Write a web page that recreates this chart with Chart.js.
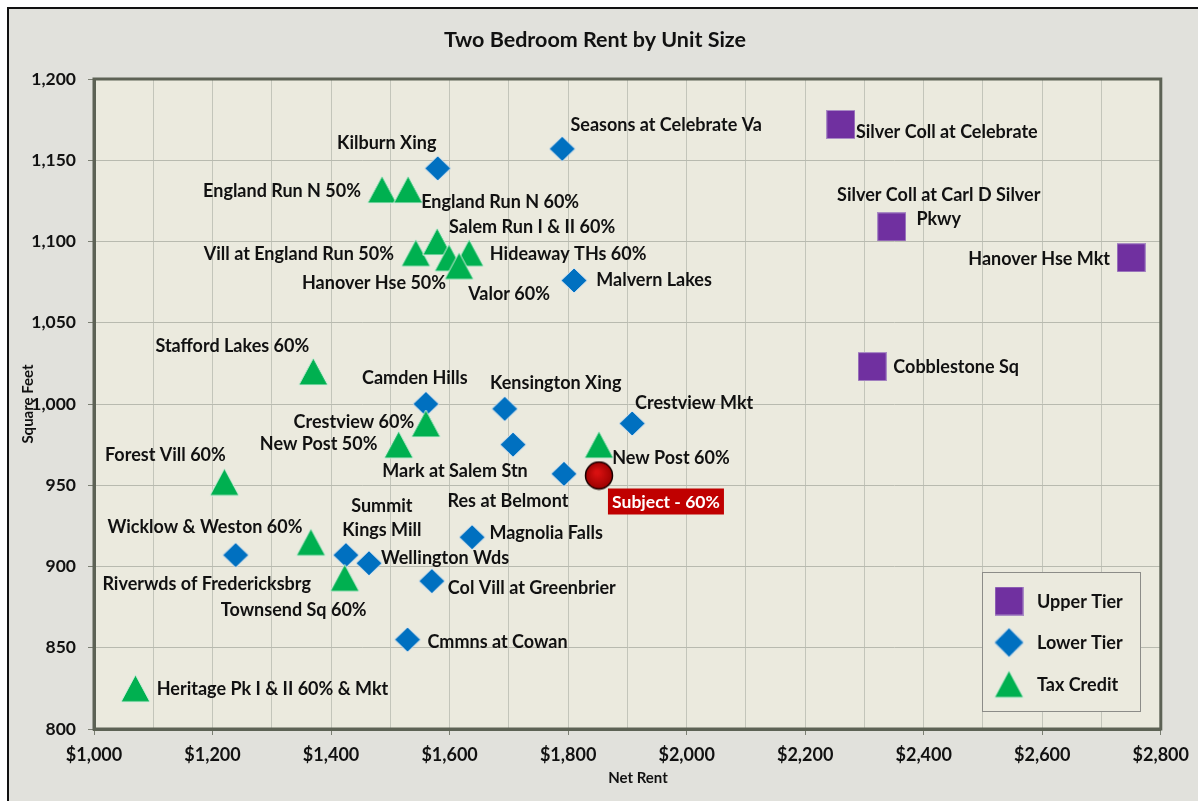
<!DOCTYPE html>
<html>
<head>
<meta charset="utf-8">
<script src="https://cdn.jsdelivr.net/npm/chart.js"></script>
<style>
  html, body { margin: 0; padding: 0; background: #fff; }
  #wrap { width: 1198px; height: 801px; }
</style>
</head>
<body>
<div id="wrap"><canvas id="rent-chart" width="1198" height="801"></canvas></div>
<script>
// ── 1. DATA ─────────────────────────────────────────────────

const upperNames = ['Silver Coll at Celebrate', 'Silver Coll at Carl D Silver\nPkwy', 'Hanover Hse Mkt', 'Cobblestone Sq'];
const upperRent  = [2260, 2346, 2750, 2313];
const upperSqft  = [1172, 1109, 1090, 1023];

const lowerNames = ['Kilburn Xing', 'Seasons at Celebrate Va', 'Malvern Lakes', 'Camden Hills',
  'Kensington Xing', 'Crestview Mkt', 'Mark at Salem Stn', 'Res at Belmont', 'Magnolia Falls',
  'Riverwds of Fredericksbrg', 'Summit\nKings Mill', 'Wellington Wds', 'Col Vill at Greenbrier',
  'Cmmns at Cowan'];
const lowerRent  = [1580, 1790, 1810, 1560, 1693, 1908, 1707, 1793, 1638, 1239, 1425, 1464, 1570, 1529];
const lowerSqft  = [1145, 1157, 1076, 1000, 997, 988, 975, 957, 918, 907, 907, 902, 891, 855];

const taxNames = ['England Run N 50%', 'England Run N 60%', 'Vill at England Run 50%',
  'Salem Run I & II 60%', 'Hanover Hse 50%', 'Hideaway THs 60%', 'Valor 60%',
  'Stafford Lakes 60%', 'Crestview 60%', 'New Post 50%', 'New Post 60%', 'Forest Vill 60%',
  'Wicklow & Weston 60%', 'Townsend Sq 60%', 'Heritage Pk I & II 60% & Mkt'];
const taxRent  = [1486, 1530, 1543, 1579, 1599, 1633, 1616, 1370, 1560, 1514, 1852, 1220, 1366, 1423, 1070];
const taxSqft  = [1132, 1132, 1093, 1100, 1090, 1093, 1085, 1020, 988, 975, 975, 952, 915, 893, 825];

const subjectName = 'Subject - 60%';
const subjectRent = [1852];
const subjectSqft = [956];

const xTickLabels = ['$1,000', '$1,200', '$1,400', '$1,600', '$1,800', '$2,000', '$2,200', '$2,400', '$2,600', '$2,800'];
const yTickLabels = ['800', '850', '900', '950', '1,000', '1,050', '1,100', '1,150', '1,200'];

// label placement (centre of first text line, px from the marker)
const upperLabelPos = [[106, 8], [47, -32], [-92, 1], [84, 1]];
const lowerLabelPos = [[-51, -25], [104, -24], [80, 0], [-11, -26], [51, -26], [62, -20],
  [-58, 27], [-56, 27], [74, -4], [-29, 29], [36, -49], [76, -5], [100, 7], [90, 3]];
const taxLabelPos = [[-100, 2], [92, 13], [-117, 1], [95, -14], [-75, 25], [99, 1], [50, 28],
  [-81, -25], [-72, -1], [-80, 0], [72, 14], [-59, -27], [-106, -15], [-51, 32], [137, 1]];

// ── 2. MARKERS ──────────────────────────────────────────────

const FONT = 'Lato, "Open Sans", sans-serif';

function makeMarker(w, h, draw) {
  const c = document.createElement('canvas');
  c.width = w; c.height = h;
  draw(c.getContext('2d'), w, h);
  return c;
}

const squareMark = makeMarker(29, 29, (g, w, h) => {
  g.fillStyle = '#7030a0';
  g.fillRect(0, 0, w, h);
  g.strokeStyle = '#a98bc4';
  g.lineWidth = 1;
  g.strokeRect(0.5, 0.5, w - 1, h - 1);
});

const diamondMark = makeMarker(28, 27, (g, w, h) => {
  g.beginPath();
  g.moveTo(w / 2, 1); g.lineTo(w - 1, h / 2); g.lineTo(w / 2, h - 1); g.lineTo(1, h / 2);
  g.closePath();
  g.fillStyle = '#0070c0';
  g.fill();
  g.strokeStyle = '#d8e4ee';
  g.lineWidth = 1;
  g.stroke();
});

const triangleMark = makeMarker(31, 29, (g, w, h) => {
  g.beginPath();
  g.moveTo(w / 2, 1); g.lineTo(w - 1, h - 1); g.lineTo(1, h - 1);
  g.closePath();
  g.fillStyle = '#00b050';
  g.fill();
  g.strokeStyle = '#d5eedd';
  g.lineWidth = 1;
  g.stroke();
});

const subjectMark = makeMarker(30, 30, (g, w, h) => {
  const grad = g.createRadialGradient(13, 12, 2, 15, 15, 14);
  grad.addColorStop(0, '#d81010');
  grad.addColorStop(1, '#9a0000');
  g.beginPath();
  g.arc(15, 15, 13.5, 0, Math.PI * 2);
  g.fillStyle = grad;
  g.fill();
  g.strokeStyle = '#1a0000';
  g.lineWidth = 1.5;
  g.stroke();
});

function toPoints(xs, ys) {
  return xs.map((x, i) => ({ x: x, y: ys[i] }));
}

// ── 3. PLUGINS ──────────────────────────────────────────────

const backgroundPlugin = {
  id: 'background',
  beforeDraw(chart) {
    const { ctx, width, height, chartArea: a } = chart;
    ctx.save();
    ctx.fillStyle = '#ffffff';
    ctx.fillRect(0, 0, width, height);
    ctx.fillStyle = '#e1e1dc';
    ctx.fillRect(8, 8, width - 8, height - 8);
    ctx.strokeStyle = '#111';
    ctx.lineWidth = 2;
    ctx.beginPath();
    ctx.moveTo(8, height); ctx.lineTo(8, 8); ctx.lineTo(width, 8);
    ctx.stroke();
    ctx.fillStyle = '#ebeade';
    ctx.fillRect(a.left, a.top, a.right - a.left, a.bottom - a.top);
    // title and x axis title
    ctx.fillStyle = '#111';
    ctx.textAlign = 'center';
    ctx.textBaseline = 'middle';
    ctx.font = 'bold 21.5px ' + FONT;
    ctx.fillText('Two Bedroom Rent by Unit Size', 595, 40);
    ctx.font = 'bold 15px ' + FONT;
    ctx.fillText('Net Rent', 638, 778);
    ctx.restore();
  },
  beforeDatasetsDraw(chart) {
    const { ctx, chartArea: a } = chart;
    ctx.save();
    ctx.strokeStyle = '#5d6255';
    ctx.lineWidth = 3;
    ctx.strokeRect(a.left, a.top, a.right - a.left, a.bottom - a.top);
    ctx.restore();
  }
};

const labelPlugin = {
  id: 'pointLabels',
  afterDatasetsDraw(chart) {
    const ctx = chart.ctx;
    ctx.save();
    ctx.textAlign = 'center';
    ctx.textBaseline = 'middle';
    chart.data.datasets.forEach((ds, di) => {
      const meta = chart.getDatasetMeta(di);
      meta.data.forEach((pt, i) => {
        const pos = ds.labelPos[i];
        if (ds.isSubject) {
          ctx.fillStyle = '#c00000';
          ctx.fillRect(pt.x + pos[0] - 58, pt.y + pos[1] - 13, 116, 26);
          ctx.fillStyle = '#ffffff';
          ctx.font = 'bold 17.5px ' + FONT;
          ctx.fillText(ds.names[i], pt.x + pos[0], pt.y + pos[1] + 1);
          return;
        }
        ctx.fillStyle = '#111';
        ctx.font = 'bold 18px ' + FONT;
        ds.names[i].split('\n').forEach((line, k) => {
          ctx.fillText(line, pt.x + pos[0], pt.y + pos[1] + k * 24);
        });
      });
    });
    ctx.restore();
  }
};

const legendPlugin = {
  id: 'boxLegend',
  afterDraw(chart) {
    const ctx = chart.ctx;
    const items = chart.data.datasets.filter(d => !d.isSubject);
    ctx.save();
    ctx.fillStyle = '#ebeade';
    ctx.fillRect(982.5, 572.5, 158, 139);
    ctx.strokeStyle = '#8c8c88';
    ctx.lineWidth = 1;
    ctx.strokeRect(982.5, 572.5, 158, 139);
    ctx.font = 'bold 18px ' + FONT;
    ctx.fillStyle = '#111';
    ctx.textAlign = 'left';
    ctx.textBaseline = 'middle';
    items.forEach((d, i) => {
      const y = 601 + i * 41.5;
      const m = d.legendMark;
      ctx.drawImage(m, 1009 - m.width / 2, y - m.height / 2);
      ctx.fillText(d.label, 1037, y + 1);
    });
    ctx.restore();
  }
};

// ── 4. CHART ────────────────────────────────────────────────

const ctx = document.getElementById('rent-chart').getContext('2d');

const chart = new Chart(ctx, {
  type: 'scatter',
  data: {
    datasets: [
      {
        label: 'Upper Tier',
        data: toPoints(upperRent, upperSqft),
        names: upperNames,
        labelPos: upperLabelPos,
        pointStyle: squareMark,
        legendMark: squareMark,
        order: 3
      },
      {
        label: 'Lower Tier',
        data: toPoints(lowerRent, lowerSqft),
        names: lowerNames,
        labelPos: lowerLabelPos,
        pointStyle: diamondMark,
        legendMark: makeMarker(32, 32, (g, w, h) => g.drawImage(diamondMark, 0, 0, w, h)),
        order: 2
      },
      {
        label: 'Tax Credit',
        data: toPoints(taxRent, taxSqft),
        names: taxNames,
        labelPos: taxLabelPos,
        pointStyle: triangleMark,
        legendMark: triangleMark,
        order: 1
      },
      {
        label: subjectName,
        data: toPoints(subjectRent, subjectSqft),
        names: [subjectName],
        labelPos: [[67, 26]],
        pointStyle: subjectMark,
        isSubject: true,
        order: 0
      }
    ]
  },
  options: {
    responsive: false,
    devicePixelRatio: 1,
    animation: false,
    layout: { padding: { top: 79, right: 37, bottom: 0, left: 0 } },
    plugins: {
      legend: { display: false },
      title: { display: false },
      tooltip: { enabled: false }
    },
    scales: {
      x: {
        type: 'linear',
        min: 1000,
        max: 2800,
        afterFit: s => { s.height = 72; },
        afterBuildTicks: s => {
          s.ticks = [];
          for (let v = 1000; v <= 2800; v += 100) s.ticks.push({ value: v });
        },
        ticks: {
          autoSkip: false,
          maxRotation: 0,
          padding: 9,
          color: '#111',
          font: { family: FONT, size: 18, weight: 'bold' },
          callback: v => (v % 200 === 0 ? xTickLabels[(v - 1000) / 200] : '')
        },
        grid: {
          color: '#c3c5ba',
          tickLength: 6,
          tickColor: c => (c.tick && c.tick.value % 200 === 0 ? '#7a7e72' : 'rgba(0,0,0,0)')
        },
        border: { display: true, color: '#5d6255', width: 3 },
        title: { display: false }
      },
      y: {
        type: 'linear',
        min: 800,
        max: 1200,
        afterFit: s => { s.width = 94; },
        ticks: {
          stepSize: 50,
          padding: 12,
          color: '#111',
          font: { family: FONT, size: 17.5, weight: 'bold' },
          callback: v => yTickLabels[(v - 800) / 50]
        },
        grid: { color: '#b8baaf', tickLength: 6, tickColor: '#7a7e72' },
        border: { display: true, color: '#5d6255', width: 3 },
        title: {
          display: true,
          text: 'Square Feet',
          color: '#111',
          font: { family: FONT, size: 15, weight: 'bold' },
          padding: { top: 19, bottom: 0 }
        }
      }
    }
  },
  plugins: [backgroundPlugin, labelPlugin, legendPlugin]
});
</script>
</body>
</html>
